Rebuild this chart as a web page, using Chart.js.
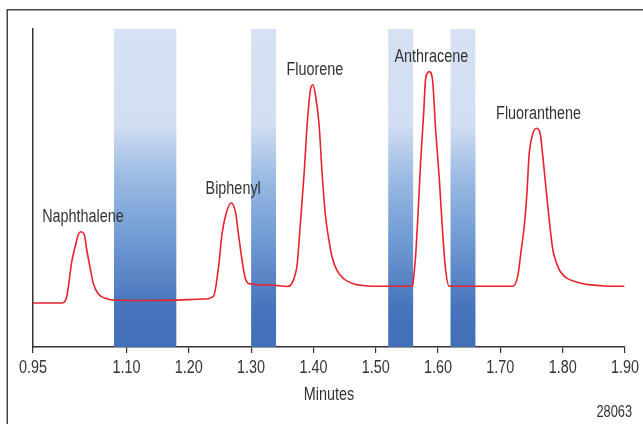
<!DOCTYPE html>
<html>
<head>
<meta charset="utf-8">
<script src="https://cdn.jsdelivr.net/npm/chart.js@4"></script>
<style>
    html, body { margin: 0; padding: 0; background: #fff; }
    #wrap { width: 643px; height: 424px; }
</style>
</head>
<body>
<div id="wrap"><canvas id="chart" width="643" height="424"></canvas></div>
<script>
// chromatogram trace: retention time (min) and detector signal
const minutes = [
    0.950, 0.993, 0.998, 1.001, 1.004, 1.007, 1.012, 1.018, 1.023, 1.027, 1.032, 1.036, 1.042, 1.047, 1.055, 1.066, 1.079,
    1.138, 1.226, 1.240, 1.248, 1.253, 1.259, 1.268, 1.275, 1.280, 1.286, 1.291, 1.299,
    1.331, 1.358, 1.365, 1.371, 1.374, 1.379, 1.385, 1.390, 1.395, 1.399, 1.403, 1.409, 1.414, 1.419,
    1.425, 1.430, 1.438, 1.449, 1.465, 1.484, 1.500, 1.530, 1.559,
    1.560, 1.564, 1.568, 1.572, 1.577, 1.580, 1.586, 1.591, 1.596, 1.602, 1.607, 1.612, 1.618,
    1.660, 1.720, 1.728, 1.733, 1.739, 1.743, 1.746, 1.752, 1.758, 1.764, 1.768, 1.776, 1.784, 1.789,
    1.797, 1.824, 1.862, 1.899
];
const signal = [
    44, 44, 44.2, 45.5, 50, 61.3, 84.7, 101.3, 113, 115.3, 113, 98, 78, 63, 53, 48.7, 47,
    46.5, 48, 51.3, 81.3, 111.3, 131.3, 144, 134.7, 111.3, 84.7, 68, 63,
    62, 60.5, 63, 73, 83, 123, 173, 223, 256.3, 262.3, 253, 223, 173, 133,
    106.3, 89.7, 76.3, 68, 63, 61.3, 60.7, 60.7, 60.7,
    64.7, 91.3, 134.7, 184.7, 234.7, 268, 275.3, 268, 218, 168, 118, 78, 60.7,
    60.7, 60.7, 71.3, 94.7, 124.7, 158, 191.3, 213, 218.7, 213, 191.3, 141.3, 98, 86,
    74.7, 64.7, 61.3, 60.7
];

// compound names at each peak apex
const peakNames = ["Naphthalene", "Biphenyl", "Fluorene", "Anthracene", "Fluoranthene"];
const peakTimes = [1.027, 1.268, 1.399, 1.586, 1.758];
const peakHeights = [115.3, 144, 262.3, 275.3, 218.7];

// shaded time windows
const bandStart = [1.08, 1.30, 1.52, 1.62];
const bandEnd = [1.18, 1.34, 1.56, 1.66];

const tickValues = [0.95, 1.10, 1.20, 1.30, 1.40, 1.50, 1.60, 1.70, 1.80, 1.90];
const axisTitle = "Minutes";
const figureId = "28063";

const FONT = '"Liberation Sans", Arial, sans-serif';
const TEXT = "#333";

// condensed text: the sans face squeezed horizontally
function narrowText(ctx, str, x, y, size, align) {
    ctx.save();
    ctx.font = size + "px " + FONT;
    ctx.textAlign = align;
    ctx.textBaseline = "alphabetic";
    ctx.translate(x, y);
    ctx.scale(0.8, 1);
    ctx.fillText(str, 0, 0);
    ctx.restore();
}

const bandsPlugin = {
    id: "bands",
    beforeDatasetsDraw(chart) {
        const { ctx, chartArea: a, scales: { x } } = chart;
        const g = ctx.createLinearGradient(0, a.top, 0, a.bottom);
        g.addColorStop(0, "#d6e1f3");
        g.addColorStop(0.30, "#d2def2");
        g.addColorStop(0.46, "#9dbce4");
        g.addColorStop(0.62, "#78a1d6");
        g.addColorStop(0.78, "#5a85c6");
        g.addColorStop(0.88, "#4673bb");
        g.addColorStop(1, "#4270b8");
        ctx.save();
        ctx.fillStyle = g;
        for (let i = 0; i < bandStart.length; i++) {
            const x0 = x.getPixelForValue(bandStart[i]);
            const x1 = x.getPixelForValue(bandEnd[i]);
            ctx.fillRect(x0, a.top, x1 - x0, a.bottom - a.top);
        }
        ctx.restore();
    }
};

const textPlugin = {
    id: "texts",
    afterDraw(chart) {
        const { ctx, chartArea: a, scales: { x, y } } = chart;
        ctx.save();
        ctx.fillStyle = TEXT;
        peakNames.forEach((name, i) => {
            const px = x.getPixelForValue(peakTimes[i]) + 2;
            const py = y.getPixelForValue(peakHeights[i]) - 9.5;
            narrowText(ctx, name, px, py, 18, "center");
        });
        tickValues.forEach(v => {
            narrowText(ctx, v.toFixed(2), x.getPixelForValue(v), a.bottom + 26, 18, "center");
        });
        narrowText(ctx, axisTitle, (a.left + a.right) / 2, 400, 18, "center");
        narrowText(ctx, figureId, 632, 416.5, 16, "right");
        // outer frame (runs off the right and bottom edges)
        ctx.strokeStyle = "#444";
        ctx.lineWidth = 1.5;
        ctx.strokeRect(7.25, 9.75, 700, 500);
        ctx.restore();
    }
};

new Chart(document.getElementById("chart"), {
    type: "line",
    data: {
        datasets: [{
            data: minutes.map((m, i) => ({ x: m, y: signal[i] })),
            borderColor: "#e8232c",
            borderWidth: 1.6,
            pointRadius: 0,
            fill: false,
            cubicInterpolationMode: "monotone"
        }]
    },
    options: {
        responsive: false,
        animation: false,
        events: [],
        layout: { padding: { left: 33, right: 18, top: 29, bottom: 0 } },
        plugins: {
            legend: { display: false },
            tooltip: { enabled: false }
        },
        scales: {
            x: {
                type: "linear",
                min: 0.95,
                max: 1.90,
                afterFit: s => { s.height = 77; },
                afterBuildTicks: s => { s.ticks = tickValues.map(v => ({ value: v })); },
                grid: { display: true, drawOnChartArea: false, drawTicks: true, tickLength: 6, color: "#333", lineWidth: 1.2 },
                border: { display: true, color: "#333", width: 1.5 },
                ticks: { autoSkip: false, maxRotation: 0, color: "rgba(0,0,0,0)" }
            },
            y: {
                min: 0,
                max: 318,
                afterFit: s => { s.width = 0; },
                grid: { display: false },
                border: { display: true, color: "#333", width: 1.5 },
                ticks: { display: false }
            }
        }
    },
    plugins: [bandsPlugin, textPlugin]
});
</script>
</body>
</html>
